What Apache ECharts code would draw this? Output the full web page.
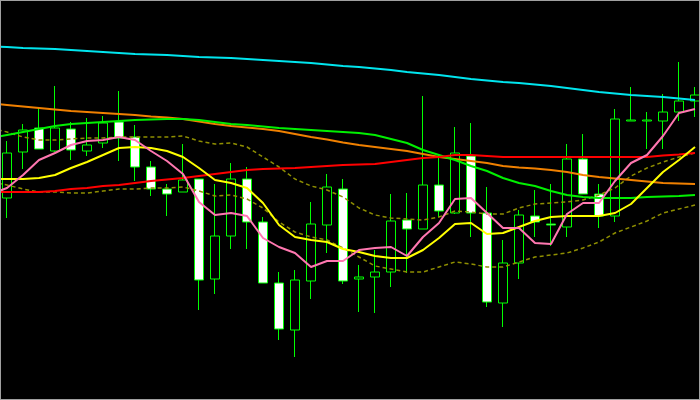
<!DOCTYPE html>
<html>
<head>
<meta charset="utf-8">
<script src="https://cdn.jsdelivr.net/npm/echarts@6/dist/echarts.min.js"></script>
<style>
html,body{margin:0;padding:0;background:#000;}
#wrap{position:relative;width:700px;height:400px;}
#chart{width:700px;height:400px;}
#frame{position:absolute;left:0;top:0;width:698px;height:398px;border:1px solid #a0a0a0;pointer-events:none;}
</style>
</head>
<body>
<div id="wrap"><div id="chart"></div><div id="frame"></div></div>
<script>
// Price levels on a screen-like scale (larger value = lower on chart).
// The first bar lies just off the left edge: only its indicator values are visible.
const bars = Array.from({length: 45}, (_, i) => 'B' + i);
const opens  = [null,198,152,128,151,129,151,143,122,137,167,189,192,179,279,236,179,222,283,330,281,225,189,279,277,272,220,229,185,213,156,213,303,263,216,224,227,159,194,216,121,121,121,112,101];
const closes = [null,153,130,149,128,150,145,123,138,167,189,194,180,280,236,179,222,283,329,280,224,187,281,277,272,221,229,185,211,153,213,302,263,215,222,225,159,194,216,119,120,120,112,101,95];
const highs  = [null,141,124,108,86,122,118,116,91,125,161,184,144,179,184,163,167,217,272,270,202,174,179,265,250,194,193,96,155,127,123,187,240,210,190,184,144,134,184,109,87,112,94,62,87];
const lows   = [null,218,169,149,152,160,156,148,161,181,196,216,192,310,294,249,249,283,340,357,299,253,284,312,313,287,273,229,217,214,237,307,327,279,237,246,237,194,228,222,121,149,149,121,117];

const maCyan   = [46.5,47,48,48.5,49,50,51,52,53,54,54.5,55,56,57,57.5,58,59,60,61,62,63,64.5,66,67,68.5,70,72,73.5,75,77,79,80.5,82,83,84.5,86,88,90,92,93.5,95,96,97,98.5,100];
const maOrange = [103.5,105,106.5,108,109.5,111,112,113,114,115,116.5,117.5,119,121.5,124,126,127.5,129,131,134,137,139.5,142.5,145,147,149,151,154,157,159,161,163,166,167.5,168.5,170,172,175,177,178.5,180,181.5,183,183.5,184];
const maGreen  = [138,135,132,129,126,124,123,122,121,120,119.5,119,119,120,122,124,125,126.5,128,129,130,131,132,133,135,139,143,150,155,160,166,171,178,183,186,191,195,197,198,198,198,197,196.5,196,195];
const maRed    = [192,192,192,192,191,189,188,186,185,183,181,179.5,178,176,174,172,170,169,168.5,168,167,166,165,164.5,164,162,160,158,157,155,155,156,157,157,157,157,157,157,157,157,157,157,155.5,154.5,153];
const maYellow = [179,179,179,178,175,168,162,155,148,147,148,151,157,168,180,183,188,203,225,237,240,242,249,252,256,258,258,250,238,224,223,234,233,227,221,217,216,216,216,213,204,188,172,160,147];
const maPink   = [194,188,175,160,153,145,141,140,137,140,151,161,174,202,215,213,216,238,247,253,267,261,261,250,248,247,256,237,223,199,198,213,228,228,243,244,214,203,203,181,163,155,136,113,109];
const bandUpper = [128,132,137,140,140,139,138,138,137,137,137,137,136,141,144,143,147,157,167,179,186,190,197,208,215,218,219,220,217,211,212,214,214,208,204,203,202,200,195,188,176,168,162,157,153];
const bandLower = [182,185,189,192,192,193,193,191,189,189,188,188,187,191,196,195,199,208,222,232,237,240,248,257,266,269,272,272,267,262,264,267,267,262,257,255,253,248,242,233,227,221,213,209,205];

const candleData = opens.map((o, i) => o === null ? '-' : [o, closes[i], highs[i], lows[i]]);

function lineSeries(data, color, width, dashed) {
  return {
    type: 'line', data: data, symbol: 'none', smooth: false, z: 3,
    lineStyle: {color: color, width: width, type: dashed ? [4, 3] : 'solid'},
    silent: true
  };
}

const chart = echarts.init(document.getElementById('chart'), null, {renderer: 'canvas'});
chart.setOption({
  backgroundColor: '#000',
  animation: false,
  grid: {left: -17, right: -3, top: 0, bottom: 0, containLabel: false, outerBoundsMode: 'none'},
  xAxis: {type: 'category', data: bars, boundaryGap: true, show: false},
  yAxis: {type: 'value', min: 0, max: 400, inverse: true, show: false, splitLine: {show: false}},
  series: [
    {
      type: 'candlestick', data: candleData, barWidth: 10, z: 1,
      itemStyle: {color: '#ffffff', color0: '#000000', borderColor: '#00ff00', borderColor0: '#00ff00', borderWidth: 1}
    },
    lineSeries(bandUpper, '#8f8f00', 1.5, true),
    lineSeries(bandLower, '#8f8f00', 1.5, true),
    lineSeries(maCyan, '#00e5ee', 2),
    lineSeries(maOrange, '#f08000', 2),
    lineSeries(maGreen, '#00f000', 2),
    lineSeries(maRed, '#ff0000', 2),
    lineSeries(maYellow, '#ffff00', 2),
    lineSeries(maPink, '#ff77b0', 2)
  ]
});
</script>
</body>
</html>
